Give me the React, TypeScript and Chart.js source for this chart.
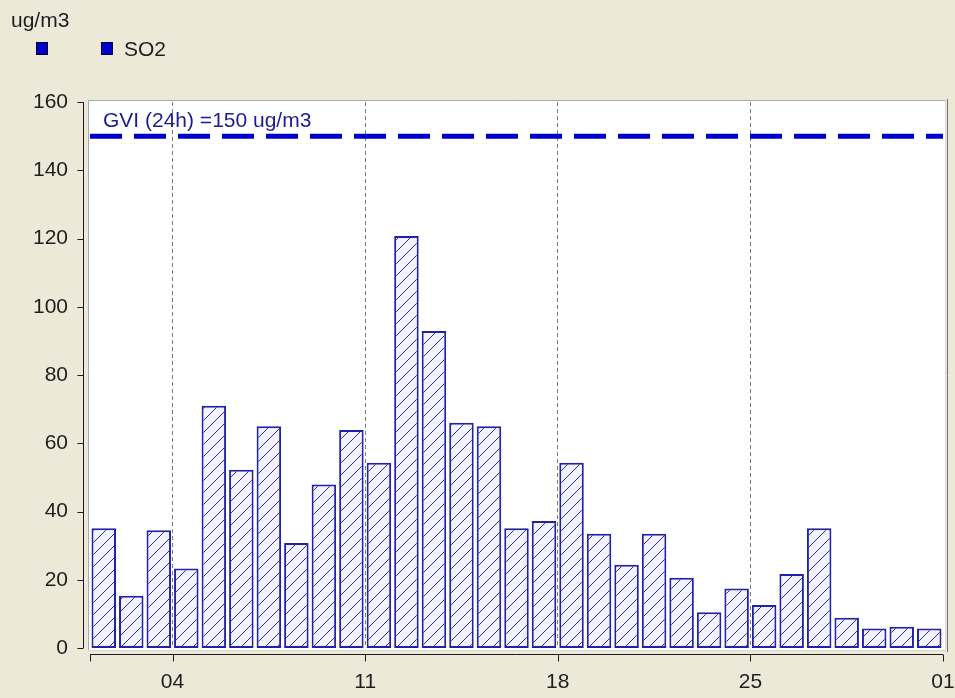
import React, { useEffect, useRef } from 'react';
import { Chart, registerables } from 'chart.js';

Chart.register(...registerables);

// ---- data ----
const days: number[] = [
  1, 2, 3, 4, 5, 6, 7, 8, 9, 10, 11, 12, 13, 14, 15, 16,
  17, 18, 19, 20, 21, 22, 23, 24, 25, 26, 27, 28, 29, 30, 31,
];
const so2Values: number[] = [
  35.1, 15.3, 34.5, 23.3, 71.0, 52.2, 65.0, 30.8, 47.9, 63.9, 54.3,
  120.7, 92.9, 66.0, 65.0, 35.1, 37.2, 54.3, 33.5, 24.4, 33.5,
  20.6, 10.5, 17.4, 12.6, 21.7, 35.1, 8.9, 5.7, 6.2, 5.7,
];
const gviLimit = 150;
const gviLabel = 'GVI (24h) =150 ug/m3';
const unitLabel = 'ug/m3';
const seriesName = 'SO2';
const yMin = 0;
const yMax = 160;
const yStep = 20;
const xTickValues: number[] = [0, 3, 10, 17, 24, 31];
const xTickLabels: string[] = ['', '04', '11', '18', '25', '01'];
const gridTickValues: number[] = [3, 10, 17, 24];

const FONT_FAMILY = '"Liberation Sans", Arial, sans-serif';
const FONT_SIZE = 21;
const TEXT_COLOR = '#1e1e1e';
const BG = '#ECE9D8';
const BAR_BORDER = '#2222a8';
const HATCH = '#2a2aae';
const LINE_BLUE = '#0000CC';

function makeHatch(): CanvasPattern | string {
  const s = 12;
  const c = document.createElement('canvas');
  c.width = s;
  c.height = s;
  const g = c.getContext('2d');
  if (!g) return '#f2f2ff';
  g.fillStyle = '#f3f3ff';
  g.fillRect(0, 0, s, s);
  g.strokeStyle = HATCH;
  g.lineWidth = 1;
  g.beginPath();
  g.moveTo(-1, s + 1);
  g.lineTo(s + 1, -1);
  g.stroke();
  const p = g.createPattern(c, 'repeat');
  return p || '#f2f2ff';
}

const decorPlugin = {
  id: 'decor',
  beforeDraw(chart: any) {
    const { ctx, chartArea: a } = chart;
    ctx.save();
    ctx.fillStyle = BG;
    ctx.fillRect(0, 0, chart.width, chart.height);
    // plot panel
    const L = a.left - 2, T = a.top - 2, R = a.right + 3, B = a.bottom + 3;
    ctx.fillStyle = '#ffffff';
    ctx.fillRect(L, T, R - L, B - T);
    ctx.lineWidth = 1;
    ctx.strokeStyle = '#a8a8a8';
    ctx.beginPath();
    ctx.moveTo(L + 0.5, B);
    ctx.lineTo(L + 0.5, T + 0.5);
    ctx.lineTo(R, T + 0.5);
    ctx.stroke();
    ctx.strokeStyle = '#d8d8d8';
    ctx.beginPath();
    ctx.moveTo(L, B - 0.5);
    ctx.lineTo(R - 0.5, B - 0.5);
    ctx.lineTo(R - 0.5, T);
    ctx.stroke();
    ctx.strokeStyle = '#707070';
    ctx.beginPath();
    ctx.moveTo(R + 1.5, T - 1);
    ctx.lineTo(R + 1.5, B + 1);
    ctx.stroke();
    ctx.restore();
  },
  afterDraw(chart: any) {
    const { ctx, chartArea: a, scales } = chart;
    const xs = scales.x;
    const ys = scales.y;
    ctx.save();
    ctx.strokeStyle = '#1a1a1a';
    ctx.lineWidth = 1;
    // y axis line + ticks
    const yAxisX = a.left - 7 + 0.5;
    ctx.beginPath();
    ctx.moveTo(yAxisX, ys.getPixelForValue(yMax));
    ctx.lineTo(yAxisX, ys.getPixelForValue(yMin));
    for (let v = yMin; v <= yMax; v += yStep) {
      const py = Math.round(ys.getPixelForValue(v)) + 0.5;
      ctx.moveTo(yAxisX - 6, py);
      ctx.lineTo(yAxisX, py);
    }
    ctx.stroke();
    // x axis line + ticks
    const xAxisY = a.bottom + 6 + 0.5;
    ctx.beginPath();
    ctx.moveTo(xs.getPixelForValue(xTickValues[0]), xAxisY);
    ctx.lineTo(xs.getPixelForValue(xTickValues[xTickValues.length - 1]), xAxisY);
    xTickValues.forEach((v) => {
      const px = Math.round(xs.getPixelForValue(v)) + 0.5;
      ctx.moveTo(px, xAxisY);
      ctx.lineTo(px, xAxisY + 7);
    });
    ctx.stroke();

    // GVI label
    ctx.font = `${FONT_SIZE}px ${FONT_FAMILY}`;
    ctx.textAlign = 'left';
    ctx.textBaseline = 'alphabetic';
    ctx.fillStyle = '#1c1c94';
    ctx.fillText(gviLabel, a.left + 13, ys.getPixelForValue(gviLimit) - 9);

    // unit + legend
    ctx.fillStyle = TEXT_COLOR;
    ctx.fillText(unitLabel, 11, 27);
    const drawSwatch = (x: number, y: number) => {
      ctx.fillStyle = '#0000CC';
      ctx.fillRect(x, y, 12, 13);
      ctx.strokeStyle = '#000033';
      ctx.lineWidth = 1;
      ctx.strokeRect(x + 0.5, y + 0.5, 11, 12);
    };
    drawSwatch(36, 42);
    drawSwatch(101, 42);
    ctx.fillStyle = TEXT_COLOR;
    ctx.fillText(seriesName, 124, 56);
    ctx.restore();
  },
};

export default function App() {
  const ref = useRef<HTMLCanvasElement | null>(null);

  useEffect(() => {
    document.body.style.margin = '0';
    document.body.style.background = BG;
    const canvas = ref.current;
    if (!canvas) return;
    const pattern = makeHatch();
    const chart = new Chart(canvas, {
      type: 'bar',
      data: {
        datasets: [
          {
            type: 'bar',
            label: seriesName,
            data: days.map((d, i) => ({ x: d - 0.5, y: so2Values[i] })),
            backgroundColor: pattern as any,
            borderColor: BAR_BORDER,
            borderWidth: 2,
            borderSkipped: false,
            barPercentage: 0.89,
            categoryPercentage: 1,
            order: 2,
          } as any,
          {
            type: 'line',
            label: 'GVI',
            data: [
              { x: xTickValues[0], y: gviLimit },
              { x: xTickValues[xTickValues.length - 1], y: gviLimit },
            ],
            borderColor: LINE_BLUE,
            borderWidth: 5,
            borderDash: [32, 12],
            pointRadius: 0,
            fill: false,
            order: 1,
          } as any,
        ],
      },
      options: {
        responsive: false,
        animation: false,
        devicePixelRatio: 1,
        events: [],
        layout: { padding: { left: 0, top: 102, right: 12, bottom: 0 } },
        plugins: {
          legend: { display: false },
          tooltip: { enabled: false },
          title: { display: false },
        },
        scales: {
          x: {
            type: 'linear',
            min: xTickValues[0],
            max: xTickValues[xTickValues.length - 1],
            offset: false,
            afterBuildTicks: (scale: any) => {
              scale.ticks = xTickValues.map((v) => ({ value: v }));
            },
            afterFit: (scale: any) => {
              scale.height = 50;
              scale.paddingLeft = 0;
              scale.paddingRight = 0;
            },
            grid: {
              offset: false,
              drawTicks: false,
              lineWidth: 1,
              color: (c: any) =>
                c.tick && gridTickValues.includes(c.tick.value) ? '#7a7a7a' : 'rgba(0,0,0,0)',
            },
            border: { display: false, dash: [4, 3] },
            ticks: {
              autoSkip: false,
              maxRotation: 0,
              padding: 22,
              color: TEXT_COLOR,
              font: { family: FONT_FAMILY, size: FONT_SIZE },
              callback: (value: any) => {
                const idx = xTickValues.indexOf(Number(value));
                return idx >= 0 ? xTickLabels[idx] : '';
              },
            },
          },
          y: {
            type: 'linear',
            min: yMin,
            max: yMax,
            afterFit: (scale: any) => {
              scale.width = 90;
              scale.paddingTop = 0;
              scale.paddingBottom = 0;
            },
            grid: { display: false, drawTicks: false },
            border: { display: false },
            ticks: {
              stepSize: yStep,
              padding: 22,
              color: TEXT_COLOR,
              font: { family: FONT_FAMILY, size: FONT_SIZE },
            },
          },
        },
      } as any,
      plugins: [decorPlugin],
    });
    return () => chart.destroy();
  }, []);

  return (
    <div style={{ position: 'fixed', left: 0, top: 0, width: 955, height: 698, background: BG }}>
      <canvas ref={ref} width={955} height={698} style={{ display: 'block' }} />
    </div>
  );
}
